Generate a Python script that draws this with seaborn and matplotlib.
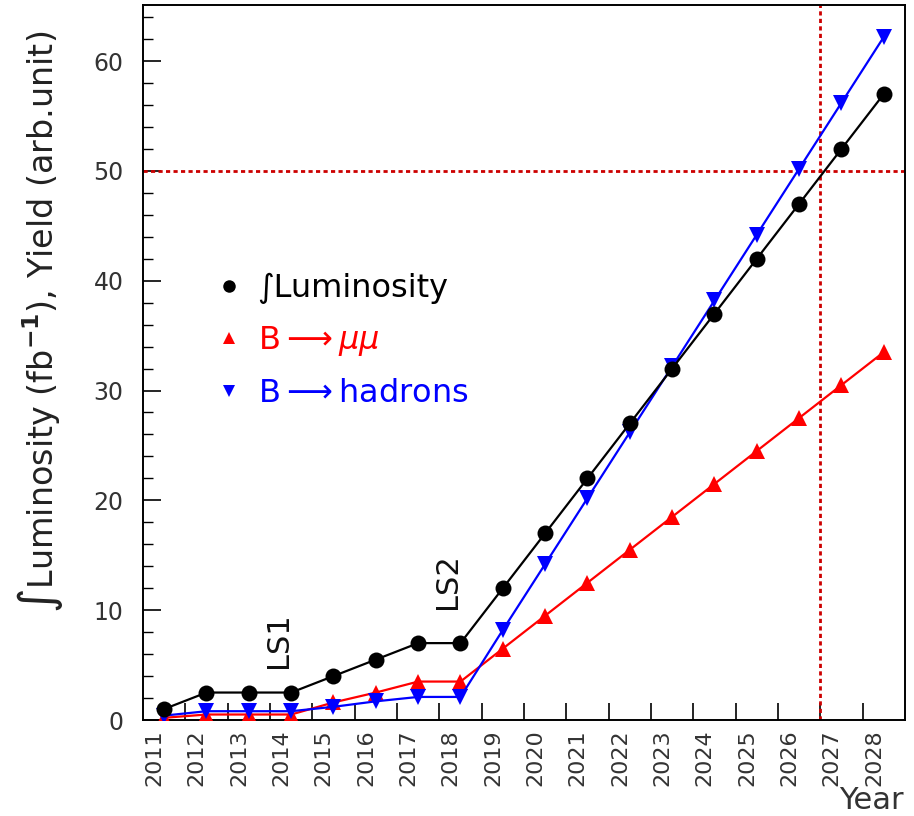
import numpy as np
import pandas as pd
import matplotlib
matplotlib.use("Agg")
import matplotlib.pyplot as plt
from matplotlib.lines import Line2D
from matplotlib.transforms import ScaledTranslation
import seaborn as sns

years = list(range(2011, 2029))
luminosity = [1, 2.5, 2.5, 2.5, 4, 5.5, 7, 7, 12, 17, 22, 27, 32, 37, 42, 47, 52, 57]
b_mumu = [0.2, 0.5, 0.5, 0.5, 1.6, 2.5, 3.5, 3.5, 6.5, 9.5, 12.5, 15.5, 18.5, 21.5, 24.5, 27.5, 30.5, 33.5]
b_hadrons = [0.4, 0.8, 0.8, 0.8, 1.2, 1.7, 2.1, 2.1, 8.2, 14.2, 20.2, 26.2, 32.2, 38.2, 44.2, 50.2, 56.2, 62.2]
series_labels = ["\u222bLuminosity", r"B$\longrightarrow\mu\mu$", r"B$\longrightarrow$hadrons"]
y_ticks = [0, 10, 20, 30, 40, 50, 60]
h_ref = 50
v_ref = 2026.5
annotations = ["LS1", "LS2"]
annot_x = [2013.7, 2017.7]
annot_y = [7.3, 12.6]

sns.set_style("white")
plt.rcParams["font.family"] = ["DejaVu Sans"]

fig = plt.figure(figsize=(9.14, 8.16), dpi=100)
ax = fig.add_axes([143 / 914, 1 - 720 / 816, (905 - 143) / 914, (720 - 5) / 816])

df = pd.DataFrame({"year": years, "lum": luminosity, "mumu": b_mumu, "had": b_hadrons})

sns.lineplot(data=df, x="year", y="lum", ax=ax, color="black", marker="o",
             markersize=11.5, markeredgewidth=0, linewidth=1.6, zorder=4)
sns.lineplot(data=df, x="year", y="mumu", ax=ax, color="#ff0000", marker="^",
             markersize=11.5, markeredgewidth=0, linewidth=1.6, zorder=3)
sns.lineplot(data=df, x="year", y="had", ax=ax, color="#0000ff", marker="v",
             markersize=11.5, markeredgewidth=0, linewidth=1.6, zorder=3)

ax.axhline(h_ref, color="#cc0000", linestyle=(0, (1.5, 1.2)), linewidth=2.0, zorder=2)
ax.axvline(v_ref, color="#cc0000", linestyle=(0, (1.5, 1.2)), linewidth=2.0, zorder=2)

ax.set_xlim(years[0] - 0.5, years[-1] + 0.5)
ax.set_ylim(0, 65.1)

# x: ticks at bin edges (inside), labels at bin centres
ax.set_xticks([y + 0.5 for y in years[:-1]])
ax.set_xticklabels([])
ax.set_xticks(years, minor=True)
ax.set_xticklabels([str(y) for y in years], minor=True, rotation=90,
                   fontsize=16, color="#333333", va="top", ha="center")
ax.tick_params(axis="x", which="major", direction="in", length=12, width=1.2,
               top=False, bottom=True, color="black")
ax.tick_params(axis="x", which="minor", length=0, pad=7)
for lab in ax.get_xticklabels(minor=True):
    lab.set_transform(lab.get_transform() + ScaledTranslation(-7 / 72, 0, fig.dpi_scale_trans))

ax.set_yticks(y_ticks)
ax.set_yticklabels([str(v) for v in y_ticks], fontsize=17, color="#333333")
ax.set_yticks(np.arange(0, 65, 2), minor=True)
ax.tick_params(axis="y", which="major", direction="in", length=13, width=1.2,
               left=True, right=False, pad=14, color="black")
ax.tick_params(axis="y", which="minor", direction="in", length=7, width=1.0,
               left=True, right=False, color="black")

for sp in ax.spines.values():
    sp.set_visible(True)
    sp.set_color("black")
    sp.set_linewidth(1.4)

ax.set_xlabel("")
ax.set_ylabel("")
fig.text(40 / 914, 1 - 322 / 816, "\u222bLuminosity (fb$^{\\mathbf{-1}}$), Yield (arb.unit)",
         rotation=90, ha="center", va="center", fontsize=24, color="#222222")
fig.text(904 / 914, 1 - 815 / 816, "Year", ha="right", va="bottom",
         fontsize=22, color="#333333")

for txt, xx, yy in zip(annotations, annot_x, annot_y):
    ax.text(xx, yy, txt, rotation=90, ha="center", va="center", fontsize=22,
            color="#111111")

handles = [
    Line2D([], [], linestyle="none", marker="o", markersize=9, color="black", markeredgewidth=0),
    Line2D([], [], linestyle="none", marker="^", markersize=8, color="#ff0000", markeredgewidth=0),
    Line2D([], [], linestyle="none", marker="v", markersize=8, color="#0000ff", markeredgewidth=0),
]
leg = ax.legend(handles, series_labels, loc="upper left",
                bbox_to_anchor=(200 / 914, 1 - 257 / 816), bbox_transform=fig.transFigure,
                frameon=False, fontsize=23, labelspacing=0.62, handlelength=0.8,
                handletextpad=0.5, borderpad=0)
for t, c in zip(leg.get_texts(), ["black", "#ff0000", "#0000ff"]):
    t.set_color(c)

fig.savefig("out.png", dpi=100)
